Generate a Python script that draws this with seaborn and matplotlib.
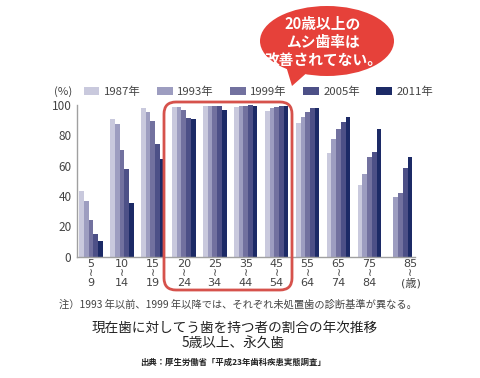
import numpy as np
import pandas as pd
import matplotlib
matplotlib.use("Agg")
import matplotlib.pyplot as plt
import matplotlib.transforms as mtransforms
from matplotlib.patches import FancyBboxPatch, Ellipse, Polygon, Patch
import seaborn as sns

# ---- data ----
age_groups = ['5-9', '10-14', '15-19', '20-24', '25-34', '35-44', '45-54',
              '55-64', '65-74', '75-84', '85-']
tick_labels = ['5\n≀\n9', '10\n≀\n14', '15\n≀\n19', '20\n≀\n24', '25\n≀\n34',
               '35\n≀\n44', '45\n≀\n54', '55\n≀\n64', '65\n≀\n74', '75\n≀\n84',
               '85\n≀\n(歳)']
years = ['1987年', '1993年', '1999年', '2005年', '2011年']
v1987 = [43.5, 91.0, 98.0, 98.4, 99.5, 98.8, 96.2, 88.4, 68.4, 46.9, np.nan]
v1993 = [36.7, 87.3, 95.5, 98.4, 99.5, 99.6, 97.8, 92.4, 77.3, 54.7, 39.0]
v1999 = [24.4, 70.4, 89.6, 96.9, 99.5, 99.6, 99.0, 95.5, 84.4, 65.8, 41.8]
v2005 = [14.7, 58.0, 74.4, 91.3, 99.5, 100.0, 99.5, 97.8, 89.1, 69.1, 58.4]
v2011 = [10.0, 35.0, 64.2, 90.6, 97.0, 99.3, 99.5, 97.8, 92.4, 84.4, 65.6]
y_ticks = [0, 20, 40, 60, 80, 100]
colors = ['#c9c9dd', '#9d9dc0', '#72719f', '#4d5087', '#1c2a66']

series = [v1987, v1993, v1999, v2005, v2011]
rows = []
for yr, vals in zip(years, series):
    for g, v in zip(age_groups, vals):
        rows.append({'age': g, 'year': yr, 'val': v})
df = pd.DataFrame(rows)

sns.set_style("white")
plt.rcParams['font.family'] = ['Noto Sans CJK JP', 'DejaVu Sans']

W, H = 480, 378
fig = plt.figure(figsize=(W / 100, H / 100), dpi=100)
fig.patch.set_facecolor('white')

ax = fig.add_axes([77 / W, 1 - 256.5 / H, (415 - 77) / W, (256.5 - 105) / H])
sns.barplot(data=df, x='age', y='val', hue='year', order=age_groups,
            hue_order=years, palette=colors, width=0.76, saturation=1,
            errorbar=None, legend=False, ax=ax, linewidth=0)
ax.set_xlim(-0.45, 10.47)
ax.set_ylim(0, 100)
ax.set_yticks(y_ticks)
ax.set_yticklabels([str(t) for t in y_ticks])
ax.set_xticks(range(len(age_groups)))
ax.set_xticklabels(tick_labels, linespacing=0.95,
                   family=['DejaVu Sans', 'Noto Sans CJK JP'])
ax.set_xlabel('')
ax.set_ylabel('')
for s in ['top', 'right']:
    ax.spines[s].set_visible(False)
for s in ['left', 'bottom']:
    ax.spines[s].set_color('#a0a0a0')
    ax.spines[s].set_linewidth(1.0)
ax.tick_params(axis='y', direction='in', length=4.5, width=0.8, color='#a0a0a0',
               labelsize=8.5, labelcolor='#444444', pad=4)
ax.tick_params(axis='x', length=0, labelsize=8.0, labelcolor='#444444', pad=1.5)
for p in ax.patches:
    p.set_clip_on(False)
# shift last label to the right
lab = ax.get_xticklabels()[-1]
lab.set_transform(lab.get_transform() + mtransforms.ScaledTranslation(10 / 100, 0, fig.dpi_scale_trans))

# legend
handles = [Patch(facecolor=c, edgecolor='none', label=y) for c, y in zip(colors, years)]
leg = fig.legend(handles=handles, ncol=5, loc='center left',
                 bbox_to_anchor=(84 / W, 1 - 92 / H), frameon=False,
                 fontsize=8.2, handlelength=1.35, handleheight=0.7,
                 handletextpad=0.4, columnspacing=1.45, borderpad=0,
                 borderaxespad=0, labelcolor='#444444')

# overlay in pixel coordinates
ov = fig.add_axes([0, 0, 1, 1], zorder=10)
ov.set_xlim(0, W)
ov.set_ylim(H, 0)
ov.axis('off')
ov.patch.set_alpha(0)

ov.text(63, 92, '(%)', ha='center', va='center', fontsize=8.2, color='#444444')

# red rounded box
box = FancyBboxPatch((164, 102), 128, 188, boxstyle='round,pad=0,rounding_size=12',
                     fill=False, edgecolor='#d6524c', linewidth=2.0)
ov.add_patch(box)

# speech bubble
red = '#e6413a'
ov.add_patch(Polygon([(286, 66), (310, 70), (292, 86)], closed=True,
                     facecolor=red, edgecolor='none'))
ov.add_patch(Ellipse((327, 41), 134, 70, facecolor=red, edgecolor='none'))
for txt, yy in [('20歳以上の', 24), ('ムシ歯率は', 42), ('改善されてない。', 60)]:
    ov.text(323, yy, txt, ha='center', va='center', fontsize=10.6, color='white',
            fontweight='bold')

# notes and titles
ov.text(59, 305, '注）1993 年以前、1999 年以降では、それぞれ未処置歯の診断基準が異なる。',
        ha='left', va='center', fontsize=7.4, color='#444444')
ov.text(235, 328, '現在歯に対してう歯を持つ者の割合の年次推移', ha='center', va='center',
        fontsize=9.8, color='#222222')
ov.text(233, 344, '5歳以上、永久歯', ha='center', va='center', fontsize=9.8,
        color='#222222')
ov.text(233, 362, '出典：厚生労働省「平成23年歯科疾患実態調査」', ha='center', va='center',
        fontsize=6.0, color='#222222', fontweight='bold')

fig.savefig('out.png', dpi=100)
